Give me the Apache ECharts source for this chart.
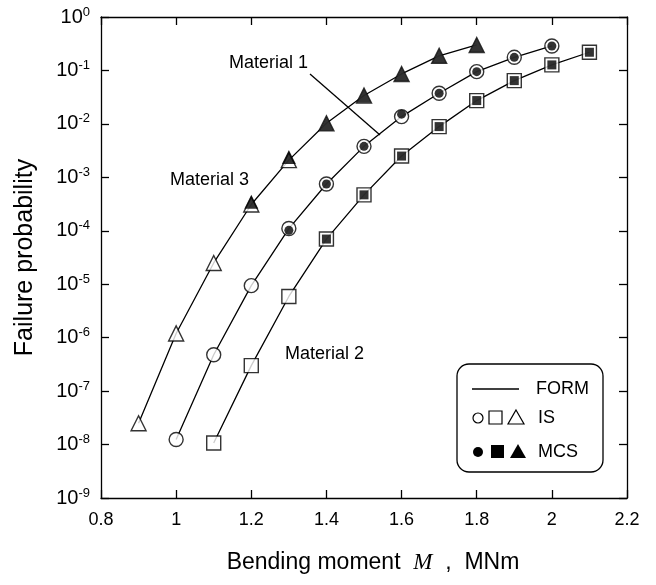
<!DOCTYPE html>
<html>
<head>
<meta charset="utf-8">
<script src="https://cdn.jsdelivr.net/npm/echarts@6/dist/echarts.min.js"></script>
<style>
  html, body { margin: 0; padding: 0; background: #fff; }
  #chart { width: 656px; height: 585px; }
</style>
</head>
<body>
<div id="chart"></div>
<script>
// Bending moment M (MNm) for each material curve
var m3X = [0.9, 1.0, 1.1, 1.2, 1.3, 1.4, 1.5, 1.6, 1.7, 1.8];
var m1X = [1.0, 1.1, 1.2, 1.3, 1.4, 1.5, 1.6, 1.7, 1.8, 1.9, 2.0];
var m2X = [1.1, 1.2, 1.3, 1.4, 1.5, 1.6, 1.7, 1.8, 1.9, 2.0, 2.1];

// FORM failure probabilities
var m3Form = [2.5e-8, 1.2e-6, 2.5e-5, 3.1e-4, 2.1e-3, 1.03e-2, 3.4e-2, 8.6e-2, 0.187, 0.30];
var m1Form = [1.24e-8, 4.8e-7, 9.4e-6, 1.1e-4, 7.5e-4, 3.8e-3, 1.37e-2, 3.75e-2, 9.5e-2, 0.176, 0.287];
var m2Form = [1.07e-8, 3.0e-7, 5.9e-6, 7.0e-5, 4.7e-4, 2.5e-3, 8.9e-3, 2.73e-2, 6.45e-2, 0.127, 0.219];

// Importance sampling (IS) results
var m3IS = [2.5e-8, 1.2e-6, 2.5e-5, 3.1e-4, 2.1e-3, 1.03e-2, 3.4e-2, 8.6e-2, 0.187, 0.30];
var m1IS = [1.24e-8, 4.8e-7, 9.4e-6, 1.1e-4, 7.5e-4, 3.8e-3, 1.37e-2, 3.75e-2, 9.5e-2, 0.176, 0.287];
var m2IS = [1.07e-8, 3.0e-7, 5.9e-6, 7.0e-5, 4.7e-4, 2.5e-3, 8.9e-3, 2.73e-2, 6.45e-2, 0.127, 0.219];

// Monte Carlo simulation (MCS) results
var mcs3X = [1.2, 1.3, 1.4, 1.5, 1.6, 1.7, 1.8];
var mcs3 = [3.5e-4, 2.4e-3, 1.03e-2, 3.4e-2, 8.6e-2, 0.187, 0.30];
var mcs1X = [1.3, 1.4, 1.5, 1.6, 1.7, 1.8, 1.9, 2.0];
var mcs1 = [1.02e-4, 7.5e-4, 3.8e-3, 1.52e-2, 3.75e-2, 9.5e-2, 0.176, 0.287];
var mcs2X = [1.4, 1.5, 1.6, 1.7, 1.8, 1.9, 2.0, 2.1];
var mcs2 = [7.0e-5, 4.7e-4, 2.5e-3, 8.9e-3, 2.73e-2, 6.45e-2, 0.127, 0.219];

// Axis ticks
var xTicks = [0.8, 1.0, 1.2, 1.4, 1.6, 1.8, 2.0, 2.2];
var yExponents = [0, -1, -2, -3, -4, -5, -6, -7, -8, -9];

function pairs(xs, ys) {
  return xs.map(function (x, i) { return [x, ys[i]]; });
}

var FONT = '"Liberation Sans", Arial, Helvetica, sans-serif';
var chart = echarts.init(document.getElementById('chart'), null, { renderer: 'canvas' });

function lineSeries(xs, ys) {
  return {
    type: 'line', data: pairs(xs, ys), symbol: 'none', z: 2,
    lineStyle: { color: '#000', width: 1.3 }, silent: true, animation: false
  };
}
function openSeries(xs, ys, sym, size) {
  return {
    type: 'scatter', data: pairs(xs, ys), symbol: sym, symbolSize: size, z: 3,
    itemStyle: { color: '#fff', borderColor: '#000', borderWidth: 1.4 },
    silent: true, animation: false
  };
}
function filledSeries(xs, ys, sym, size) {
  return {
    type: 'scatter', data: pairs(xs, ys), symbol: sym, symbolSize: size, z: 4,
    itemStyle: { color: '#000' }, silent: true, animation: false
  };
}

var axisLineStyle = { lineStyle: { color: '#000', width: 1.3 } };
var tickStyle = { show: true, inside: true, length: 8, lineStyle: { color: '#000', width: 1.3 } };

var option = {
  backgroundColor: '#fff',
  animation: false,
  textStyle: { fontFamily: FONT },
  grid: { left: 101, right: 29, top: 17, bottom: 87, containLabel: false },
  xAxis: [{
    type: 'value', min: 0.8, max: 2.2, interval: 0.2,
    axisLine: axisLineStyle, axisTick: tickStyle, splitLine: { show: false },
    axisLabel: {
      color: '#000', fontSize: 18, fontFamily: FONT, margin: 13,
      formatter: function (v) { return String(parseFloat(v.toFixed(1))); }
    },
    name: 'Bending moment  {m|M}  ,  MNm',
    nameLocation: 'middle', nameGap: 53,
    nameTextStyle: {
      color: '#000', fontSize: 23, fontFamily: FONT, padding: [0, 0, 0, 18],
      rich: { m: { fontFamily: '"Liberation Serif", "DejaVu Serif", serif', fontStyle: 'italic', fontSize: 23, color: '#000' } }
    }
  }, {
    type: 'value', min: 0.8, max: 2.2, interval: 0.2, position: 'top',
    axisLine: axisLineStyle, axisTick: tickStyle, axisLabel: { show: false },
    splitLine: { show: false }
  }],
  yAxis: [{
    type: 'log', logBase: 10, min: 1e-9, max: 1, interval: 1,
    axisLine: axisLineStyle, axisTick: tickStyle, splitLine: { show: false },
    minorTick: { show: false },
    axisLabel: {
      color: '#000', margin: 11,
      formatter: function (v) {
        var e = Math.round(Math.log10(v));
        return '{b|10}{e|' + e + '}';
      },
      rich: {
        b: { fontSize: 20, fontFamily: FONT, color: '#000' },
        e: { fontSize: 13, fontFamily: FONT, color: '#000', padding: [0, 0, 10, 0] }
      }
    },
    name: 'Failure probability', nameLocation: 'middle', nameGap: 63,
    nameTextStyle: { color: '#000', fontSize: 25, fontFamily: FONT }
  }, {
    type: 'log', logBase: 10, min: 1e-9, max: 1, interval: 1, position: 'right',
    axisLine: axisLineStyle, axisTick: tickStyle, axisLabel: { show: false },
    splitLine: { show: false }
  }],
  series: [
    lineSeries(m3X, m3Form),
    lineSeries(m1X, m1Form),
    lineSeries(m2X, m2Form),
    openSeries(m3X, m3IS, 'triangle', 15),
    openSeries(m1X, m1IS, 'circle', 14),
    openSeries(m2X, m2IS, 'rect', 14),
    filledSeries(mcs3X, mcs3, 'triangle', 14),
    filledSeries(mcs1X, mcs1, 'circle', 9),
    filledSeries(mcs2X, mcs2, 'rect', 9)
  ],
  graphic: [
    { type: 'text', left: 229, top: 54, style: { text: 'Material 1', font: '18px ' + FONT, fill: '#000' } },
    { type: 'line', shape: { x1: 310, y1: 74, x2: 380, y2: 135 }, style: { stroke: '#000', lineWidth: 1.3 } },
    { type: 'text', left: 170, top: 171, style: { text: 'Material 3', font: '18px ' + FONT, fill: '#000' } },
    { type: 'text', left: 285, top: 345, style: { text: 'Material 2', font: '18px ' + FONT, fill: '#000' } },
    // legend box
    { type: 'rect', shape: { x: 457, y: 364, width: 146, height: 108, r: 12 },
      style: { fill: '#fff', stroke: '#000', lineWidth: 1.3 }, z: 10 },
    { type: 'line', shape: { x1: 472, y1: 389, x2: 519, y2: 389 }, style: { stroke: '#000', lineWidth: 1.3 }, z: 11 },
    { type: 'text', x: 536, y: 389, style: { text: 'FORM', font: '18px ' + FONT, fill: '#000', verticalAlign: 'middle' }, z: 11 },
    { type: 'circle', shape: { cx: 478, cy: 418, r: 5 }, style: { fill: '#fff', stroke: '#000', lineWidth: 1.2 }, z: 11 },
    { type: 'rect', shape: { x: 489, y: 411, width: 13, height: 13 }, style: { fill: '#fff', stroke: '#000', lineWidth: 1.2 }, z: 11 },
    { type: 'polygon', shape: { points: [[516, 410], [524, 424], [508, 424]] }, style: { fill: '#fff', stroke: '#000', lineWidth: 1.2 }, z: 11 },
    { type: 'text', x: 538, y: 418, style: { text: 'IS', font: '18px ' + FONT, fill: '#000', verticalAlign: 'middle' }, z: 11 },
    { type: 'circle', shape: { cx: 478, cy: 452, r: 5 }, style: { fill: '#000' }, z: 11 },
    { type: 'rect', shape: { x: 491, y: 445, width: 13, height: 13 }, style: { fill: '#000' }, z: 11 },
    { type: 'polygon', shape: { points: [[518, 444], [526, 458], [510, 458]] }, style: { fill: '#000' }, z: 11 },
    { type: 'text', x: 538, y: 452, style: { text: 'MCS', font: '18px ' + FONT, fill: '#000', verticalAlign: 'middle' }, z: 11 }
  ]
};

chart.setOption(option);
</script>
</body>
</html>
